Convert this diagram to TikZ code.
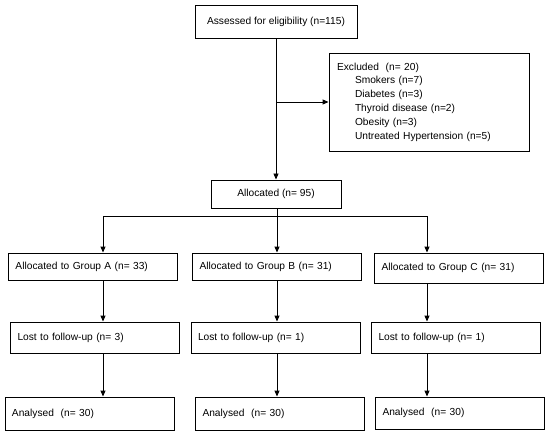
\documentclass[tikz,border=0pt]{standalone}
\usepackage{fontspec}
\setmainfont{Liberation Sans}
\usepackage{tikz}
\usetikzlibrary{arrows.meta,positioning,calc}

\begin{document}
\begin{tikzpicture}[x=1pt, y=-1pt, font=\fontsize{10.2}{13.8}\selectfont, box/.style={draw, line width=0.9pt, inner sep=0pt, align=center}, lbox/.style={box, inner xsep=7pt, text width=155pt, align=left}, arr/.style={-{Triangle[length=6pt,width=5pt]}, line width=0.9pt}]
\useasboundingbox (0,0) rectangle (550,436);
\node[box, minimum width=162pt, minimum height=33pt] (assess) at (276,21.5) {Assessed for eligibility (n=115)};
\node[box, inner xsep=8pt, text width=184pt, align=left, minimum height=98pt] (excl) at (429,102) {Excluded\ \ (n= 20)\\\hspace*{18pt}Smokers (n=7)\\\hspace*{18pt}Diabetes (n=3)\\\hspace*{18pt}Thyroid disease (n=2)\\\hspace*{18pt}Obesity (n=3)\\\hspace*{18pt}Untreated Hypertension (n=5)};
\node[box, minimum width=130pt, minimum height=28pt] (alloc) at (276,194) {Allocated (n= 95)};
% groups
\node[lbox, minimum height=27pt] (grpA) at (93,266.5) {Allocated to Group A (n= 33)};
\node[lbox, minimum height=27pt] (grpB) at (277,266.5) {Allocated to Group B (n= 31)};
\node[lbox, minimum height=30pt] (grpC) at (459,268) {Allocated to Group C (n= 31)};
\node[lbox, minimum height=31pt] (lostA) at (95,337.5) {Lost to follow-up (n= 3)};
\node[lbox, minimum height=31pt] (lostB) at (275.5,337.5) {Lost to follow-up (n= 1)};
\node[lbox, minimum height=31pt] (lostC) at (456,337.5) {Lost to follow-up (n= 1)};
\node[lbox, minimum height=33pt] (anA) at (89.5,413.5) {Analysed\ \ (n= 30)};
\node[lbox, minimum height=33pt] (anB) at (280,413.5) {Analysed\ \ (n= 30)};
\node[lbox, minimum height=32pt] (anC) at (460,413) {Analysed\ \ (n= 30)};
\coordinate (colA) at (103,216.5);
\coordinate (colB) at (277,216.5);
\coordinate (colC) at (427,216.5);
\draw[arr] (assess) -- (alloc);
\draw[arr] (assess.south |- excl.west) -- (excl.west);
\draw[line width=0.9pt] (alloc.south -| colB) -- (colB);
\draw[line width=0.9pt] (colA) -- (colC);
\foreach \c in {A,B,C} {
  \draw[arr] (col\c) -- (col\c |- grp\c.north);
  \draw[arr] (grp\c.south -| col\c) -- (lost\c.north -| col\c);
  \draw[arr] (lost\c.south -| col\c) -- (an\c.north -| col\c);
}
\end{tikzpicture}
\end{document}
